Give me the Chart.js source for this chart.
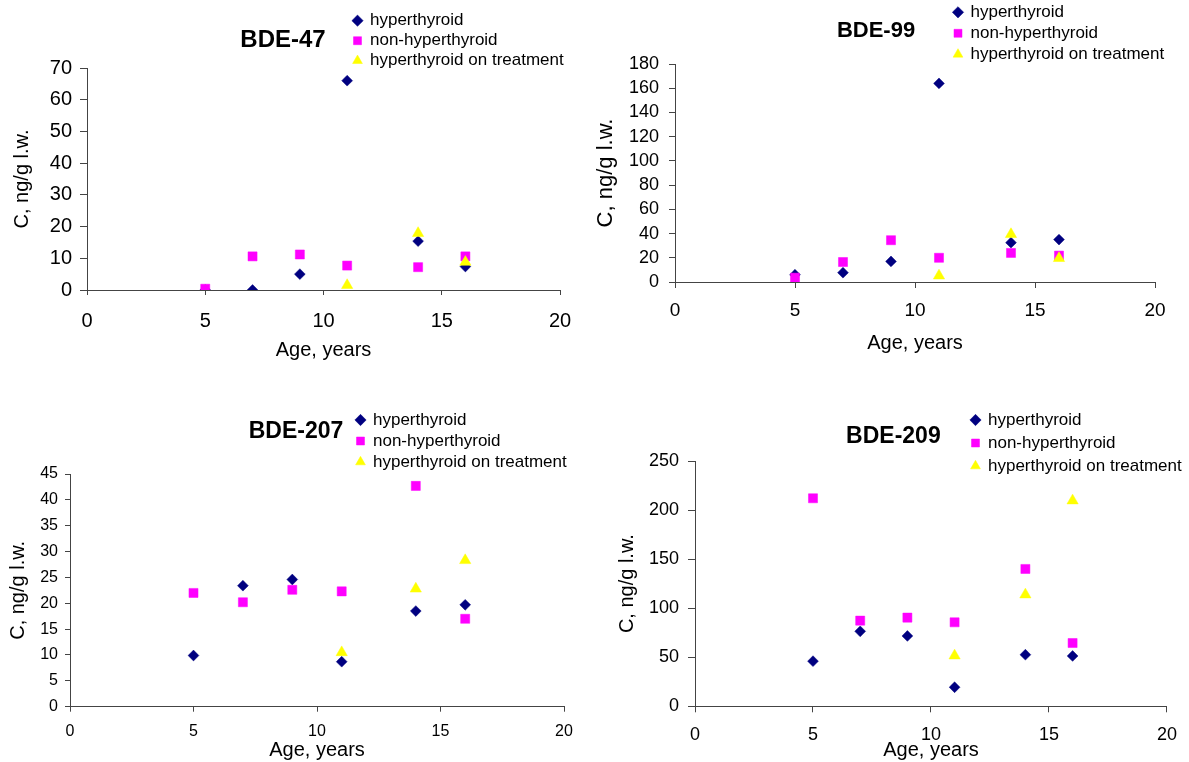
<!DOCTYPE html>
<html><head><meta charset="utf-8">
<script src="https://cdn.jsdelivr.net/npm/chart.js@4.4.1/dist/chart.umd.min.js"></script>
<style>
html,body{margin:0;padding:0;background:#fff;width:1189px;height:762px;overflow:hidden;}
canvas{position:absolute;}
</style></head><body>
<canvas id="c1" width="590" height="381" style="left:0px;top:0px"></canvas>
<canvas id="c2" width="599" height="381" style="left:590px;top:0px"></canvas>
<canvas id="c3" width="590" height="381" style="left:0px;top:381px"></canvas>
<canvas id="c4" width="599" height="381" style="left:590px;top:381px"></canvas>
<script>
// ---- data ----
const ages = [5, 7, 9, 11, 14, 16];
const treatedAges = [11, 14, 16];
const seriesNames = ['hyperthyroid', 'non-hyperthyroid', 'hyperthyroid on treatment'];
const xTickValues = [0, 5, 10, 15, 20];
const xTitle = 'Age, years';
const yTitle = 'C, ng/g l.w.';

const bde47Hyper = [0, 0, 5, 66, 15.4, 7.4];
const bde47Non = [0.4, 10.6, 11.2, 7.7, 7.2, 10.6];
const bde47Treat = [1.5, 17.9, 8.8];
const bde47YTicks = [0, 10, 20, 30, 40, 50, 60, 70];

const bde99Hyper = [6, 7.7, 17, 164, 32.5, 35];
const bde99Non = [3.6, 16.5, 34.5, 20, 24, 21.8];
const bde99Treat = [5.2, 39.4, 19.6];
const bde99YTicks = [0, 20, 40, 60, 80, 100, 120, 140, 160, 180];

const bde207Hyper = [9.9, 23.4, 24.6, 8.7, 18.5, 19.7];
const bde207Non = [22, 20.2, 22.6, 22.3, 42.7, 17];
const bde207Treat = [10.5, 22.8, 28.3];
const bde207YTicks = [0, 5, 10, 15, 20, 25, 30, 35, 40, 45];

const bde209Hyper = [46, 76.4, 71.7, 19.4, 52.6, 51.3];
const bde209Non = [212, 87.3, 90.4, 85.6, 140, 64.5];
const bde209Treat = [51.6, 113.8, 209.6];
const bde209YTicks = [0, 50, 100, 150, 200, 250];

// ---- styling ----
const FAM = '"Liberation Sans", Arial, Helvetica, sans-serif';
const AXIS = '#444';
const colors = ['#000080', '#FF00FF', '#FFFF00'];
const styles = ['rectRot', 'rect', 'triangle'];
const radii = [5.4, 6.4, 6.5];

function pts(xs, ys) { return xs.map((x, i) => ({x: x, y: ys[i]})); }

function makeChart(id, title, hyper, non, treat, yTicks, L) {
  const series = [pts(ages, hyper), pts(ages, non), pts(treatedAges, treat)];
  const datasets = series.map((d, i) => ({
    label: seriesNames[i], data: d, pointStyle: styles[i], pointRadius: radii[i],
    pointHoverRadius: radii[i], backgroundColor: colors[i], borderColor: colors[i],
    borderWidth: 0.5, order: 3 - i, showLine: false
  }));
  const place = {
    id: 'place_' + id,
    afterLayout(chart) {
      const t = chart.titleBlock;
      if (t) {
        const h = t.height;
        t.left = L.titleX - 150; t.right = L.titleX + 150; t.width = 300;
        t.top = L.titleY - h / 2; t.bottom = L.titleY + h / 2;
      }
      const lg = chart.legend;
      if (lg) {
        lg.left = L.legLeft; lg.top = L.legTop; lg.width = 260; lg.height = 110;
        lg.right = L.legLeft + 260; lg.bottom = L.legTop + 110;
      }
    }
  };
  return new Chart(document.getElementById(id), {
    type: 'scatter',
    data: { datasets: datasets },
    plugins: [place],
    options: {
      responsive: false, animation: false, devicePixelRatio: 1, events: [],
      layout: { padding: { top: L.padTop, right: L.padRight, left: 0, bottom: 0 } },
      plugins: {
        tooltip: { enabled: false },
        title: { display: true, text: title, color: '#000', padding: 0,
                 font: { family: FAM, size: L.titleSize, weight: 'bold' } },
        legend: {
          display: true, position: 'chartArea', align: 'start',
          labels: {
            usePointStyle: true, boxWidth: 8, boxHeight: 8, padding: L.legPad,
            color: '#000', font: { family: FAM, size: 17 },
            sort: (a, b) => a.datasetIndex - b.datasetIndex
          }
        }
      },
      scales: {
        x: {
          type: 'linear', position: 'bottom', min: 0, max: 20,
          afterBuildTicks: s => { s.ticks = xTickValues.map(v => ({ value: v })); },
          afterFit: s => { s.height = L.xH; },
          grid: { display: true, drawOnChartArea: false, drawTicks: true, tickLength: L.xTL, color: AXIS },
          border: { display: true, color: AXIS, width: 1 },
          ticks: { color: '#000', autoSkip: false, maxRotation: 0, padding: L.xTP,
                   font: { family: FAM, size: L.xTF } },
          title: { display: true, text: xTitle, color: '#000',
                   font: { family: FAM, size: 20 }, padding: { top: 0, bottom: L.xTitlePad } }
        },
        y: {
          type: 'linear', position: 'left', min: 0, max: yTicks[yTicks.length - 1],
          afterBuildTicks: s => { s.ticks = yTicks.map(v => ({ value: v })); },
          afterFit: s => { s.width = L.yW; },
          grid: { display: true, drawOnChartArea: false, drawTicks: true, tickLength: L.yTL, color: AXIS },
          border: { display: true, color: AXIS, width: 1 },
          ticks: { color: '#000', autoSkip: false, padding: L.yTP,
                   font: { family: FAM, size: L.yTF } },
          title: { display: true, text: yTitle, color: '#000',
                   font: { family: FAM, size: L.yTitleSize }, padding: { top: L.yTitlePad, bottom: 0 } }
        }
      }
    }
  });
}

makeChart('c1', 'BDE-47', bde47Hyper, bde47Non, bde47Treat, bde47YTicks, {
  padTop: 68 - 28.8, padRight: 30, yW: 87, xH: 91,
  yTL: 7, yTP: 8, yTF: 20, xTL: 5, xTP: 14, xTF: 20,
  xTitlePad: 19, yTitleSize: 20, yTitlePad: 10,
  titleSize: 24, titleX: 283, titleY: 40,
  legLeft: 350.5, legTop: 9.2, legPad: 3
});
makeChart('c2', 'BDE-99', bde99Hyper, bde99Non, bde99Treat, bde99YTicks, {
  padTop: 64 - 26.4, padRight: 34, yW: 85, xH: 99,
  yTL: 6, yTP: 10, yTF: 18, xTL: 6, xTP: 11, xTF: 19,
  xTitlePad: 26, yTitleSize: 22, yTitlePad: 3,
  titleSize: 22, titleX: 286, titleY: 30.5,
  legLeft: 360, legTop: -0.2, legPad: 4
});
makeChart('c3', 'BDE-207', bde207Hyper, bde207Non, bde207Treat, bde207YTicks, {
  padTop: 93 - 27.6, padRight: 26, yW: 70, xH: 55.3,
  yTL: 5, yTP: 7, yTF: 16, xTL: 5, xTP: 10, xTF: 16,
  xTitlePad: 0, yTitleSize: 20, yTitlePad: 6,
  titleSize: 23, titleX: 296, titleY: 50.7,
  legLeft: 352.5, legTop: 26.5, legPad: 4
});
makeChart('c4', 'BDE-209', bde209Hyper, bde209Non, bde209Treat, bde209YTicks, {
  padTop: 80 - 27.6, padRight: 15, yW: 105, xH: 55.7,
  yTL: 7, yTP: 9, yTF: 18, xTL: 6, xTP: 12, xTF: 18,
  xTitlePad: 0, yTitleSize: 20, yTitlePad: 25,
  titleSize: 23, titleX: 303.4, titleY: 55.7,
  legLeft: 375.5, legTop: 24.5, legPad: 6
});
</script>
</body></html>
